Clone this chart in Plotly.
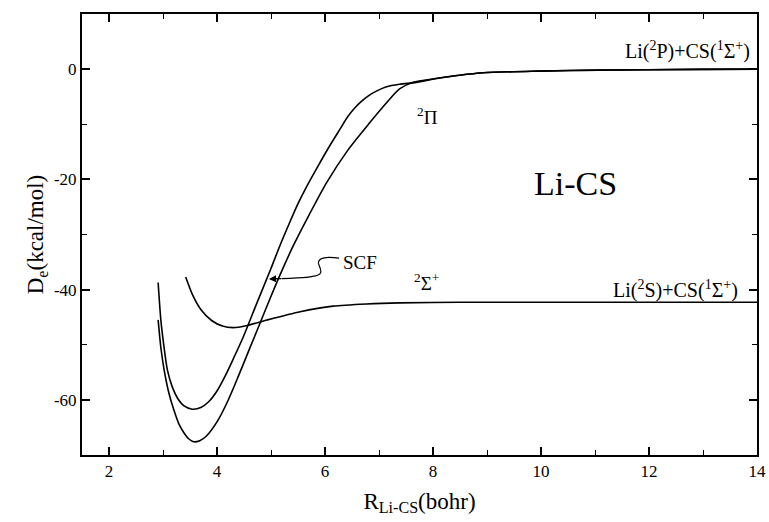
import plotly.graph_objects as go

# --- data (R in bohr, De in kcal/mol) ---
r_pi_shallow = [2.91, 2.96, 3.02, 3.08, 3.17, 3.27, 3.39, 3.54, 3.70, 3.85, 4.00, 4.15, 4.30, 4.49, 4.74, 4.99, 5.17, 5.36,
                5.50, 5.66, 5.85, 6.06, 6.28, 6.42, 6.55, 6.68, 6.81, 6.96, 7.14, 7.38, 7.69,
                8.06, 8.49, 8.93, 9.96, 11.07, 12.9, 14.0]
de_pi_shallow = [-38.7, -45.5, -50.5, -54.5, -57.6, -59.7, -61.1, -61.7, -61.4, -60.3, -58.4, -55.7, -52.6, -48.5, -42.4, -36.4, -31.9, -27.5,
                 -24.4, -21.3, -17.95, -14.35, -10.85, -8.65, -7.05, -5.8, -4.8, -3.95, -3.2, -2.75, -2.4,
                 -1.7, -1.1, -0.65, -0.36, -0.18, -0.05, 0.0]

r_pi_deep = [2.91, 2.96, 3.02, 3.11, 3.20, 3.30, 3.39, 3.48, 3.57, 3.68, 3.80, 4.00, 4.20, 4.40, 4.60, 4.80, 5.00, 5.20, 5.40,
             5.66, 6.03, 6.43, 6.83, 7.14, 7.38, 7.63,
             8.06, 8.49, 8.93, 9.96, 11.07, 12.9, 14.0]
de_pi_deep = [-45.5, -50.5, -54.5, -58.8, -61.8, -64.5, -66.0, -67.1, -67.6, -67.4, -66.6, -64.0, -60.2, -55.6, -50.8, -46.0, -41.2, -36.6, -32.3,
              -27.3, -20.6, -14.6, -9.7, -6.1, -3.6, -2.4,
              -1.7, -1.1, -0.65, -0.36, -0.18, -0.05, 0.0]

r_sigma = [3.42, 3.55, 3.70, 3.90, 4.10, 4.30, 4.56, 4.93, 5.54, 6.15, 6.77, 7.38, 8.49, 10.0, 12.0, 14.0]
de_sigma = [-37.7, -41.0, -43.6, -45.6, -46.6, -46.9, -46.5, -45.5, -44.0, -43.0, -42.6, -42.4, -42.3, -42.3, -42.3, -42.3]

x_tickvals = [2, 4, 6, 8, 10, 12, 14]
x_ticktext = ["2", "4", "6", "8", "10", "12", "14"]
y_tickvals = [-60, -40, -20, 0]
y_ticktext = ["-60", "-40", "-20", "0"]

FONT = "Liberation Serif, Times New Roman, serif"

fig = go.Figure()
for xs, ys in [(r_pi_shallow, de_pi_shallow), (r_pi_deep, de_pi_deep), (r_sigma, de_sigma)]:
    fig.add_trace(go.Scatter(x=xs, y=ys, mode="lines",
                             line=dict(color="black", width=1.6, shape="spline", smoothing=0.7),
                             showlegend=False, hoverinfo="skip"))

axis_common = dict(showline=True, linecolor="black", linewidth=2, mirror="ticks",
                   ticks="inside", ticklen=8, tickwidth=1.5, tickcolor="black",
                   showgrid=False, zeroline=False, automargin=False,
                   tickfont=dict(family=FONT, size=17, color="black"),
                   minor=dict(ticks="inside", ticklen=5, tickwidth=1.2, tickcolor="black", showgrid=False))

fig.update_xaxes(range=[1.5, 14], tickvals=x_tickvals, ticktext=x_ticktext,
                 minor_dtick=1, minor_tick0=1,
                 title=dict(text="R<sub>Li-CS</sub>(bohr)", font=dict(family=FONT, size=23, color="black"), standoff=12),
                 **axis_common)
fig.update_yaxes(range=[-70, 10], tickvals=y_tickvals, ticktext=y_ticktext,
                 minor_dtick=10, minor_tick0=-10,
                 title=dict(text="D<sub>e</sub>(kcal/mol)", font=dict(family=FONT, size=23, color="black"), standoff=4),
                 **axis_common)

tf = dict(family=FONT, size=19, color="black")
lf = dict(family=FONT, size=20, color="black")
fig.add_annotation(x=13.9, y=3.3, text="Li(<sup>2</sup>P)+CS(<sup>1</sup>Σ<sup>+</sup>)", showarrow=False,
                   xanchor="right", yanchor="middle", font=lf)
fig.add_annotation(x=13.68, y=-40.0, text="Li(<sup>2</sup>S)+CS(<sup>1</sup>Σ<sup>+</sup>)", showarrow=False,
                   xanchor="right", yanchor="middle", font=lf)
fig.add_annotation(x=7.9, y=-8.5, text="<sup>2</sup>Π", showarrow=False, font=tf)
fig.add_annotation(x=7.88, y=-38.7, text="<sup>2</sup>Σ<sup>+</sup>", showarrow=False, font=tf)
fig.add_annotation(x=10.63, y=-20.7, text="Li-CS", showarrow=False, font=dict(family=FONT, size=34, color="black"))
fig.add_annotation(x=6.3, y=-35.0, text="SCF", showarrow=False, xanchor="left", font=tf)

# squiggle leader from the SCF label
fig.add_shape(type="path", xref="x", yref="y",
              path="M 6.26,-34.3 C 6.0,-33.9 5.86,-34.3 5.88,-35.3 C 5.9,-36.1 5.96,-36.7 5.9,-37.2 "
                   "C 5.84,-37.8 5.55,-37.9 5.2,-38.0",
              line=dict(color="black", width=1.2))
fig.add_annotation(x=4.96, y=-38.05, ax=5.22, ay=-38.0, xref="x", yref="y", axref="x", ayref="y",
                   text="", showarrow=True, arrowhead=2, arrowsize=1.2, arrowwidth=1.2, arrowcolor="black")

fig.update_layout(width=769, height=522, margin=dict(l=82, r=12, t=14, b=67),
                  paper_bgcolor="white", plot_bgcolor="white",
                  font=dict(family=FONT, color="black"))

fig.write_html("out.html", config={"displayModeBar": False},
               post_script="document.body.style.margin='0';document.body.style.overflow='hidden';")
